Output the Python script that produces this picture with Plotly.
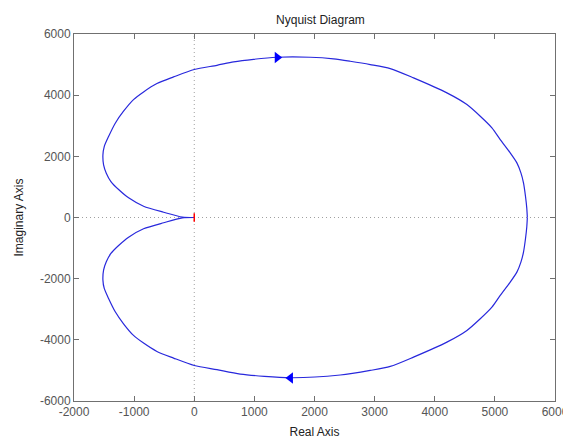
import plotly.graph_objects as go

# Upper branch: origin -> left lobe -> top -> right crossing
upper_re = [0, -200, -510, -843, -1092, -1258, -1386, -1463, -1508, -1519, -1497, -1425,
            -1314, -1176, -1010, -843, -621, -344, 0, 377, 654, 987, 1375, 1929, 2317,
            2594, 2927, 3260, 3647, 4202, 4535, 4757, 4951, 5089, 5255, 5366, 5433,
            5476, 5509, 5531, 5540]
upper_im = [0, 15, 173, 369, 643, 915, 1176, 1449, 1721, 2048, 2320, 2647,
            3083, 3475, 3856, 4107, 4380, 4597, 4840, 4977, 5088, 5173, 5239, 5239, 5186,
            5108, 5000, 4870, 4565, 4075, 3693, 3311, 2931, 2549, 2114, 1787, 1460,
            1134, 696, 300, 0]

# Lower branch: right crossing -> bottom -> left lobe -> origin
lower_re = [5540, 5531, 5509, 5476, 5433, 5366, 5255, 5089, 4951, 4757, 4535, 4202,
            3647, 3260, 2927, 2428, 1597, 765, 377, 0, -344, -621, -843, -1010, -1176,
            -1314, -1425, -1497, -1519, -1508, -1463, -1386, -1258, -1092, -843, -510,
            -200, 0]
lower_im = [0, -300, -696, -1134, -1460, -1787, -2114, -2549, -2931, -3311, -3693, -4075,
            -4565, -4870, -5000, -5150, -5240, -5120, -4977, -4840, -4597, -4380, -4107,
            -3856, -3475, -3083, -2647, -2320, -2048, -1721, -1449, -1176, -915, -643,
            -369, -173, -15, 0]

# Arrow heads
arrow_re = [1380, 1600]
arrow_im = [5235, -5245]
arrow_sym = ["triangle-right", "triangle-left"]

x_ticks = [-2000, -1000, 0, 1000, 2000, 3000, 4000, 5000, 6000]
y_ticks = [-6000, -4000, -2000, 0, 2000, 4000, 6000]

fig = go.Figure()
fig.add_trace(go.Scatter(x=upper_re, y=upper_im, mode="lines",
                         line=dict(color="#2828dc", width=1.2, shape="spline", smoothing=0.7),
                         hoverinfo="skip"))
fig.add_trace(go.Scatter(x=lower_re, y=lower_im, mode="lines",
                         line=dict(color="#2828dc", width=1.2, shape="spline", smoothing=0.7),
                         hoverinfo="skip"))
fig.add_trace(go.Scatter(x=arrow_re, y=arrow_im, mode="markers",
                         marker=dict(symbol=arrow_sym, size=10, color="#0000ff",
                                     line=dict(width=0))))
# critical point marker
fig.add_trace(go.Scatter(x=[0], y=[0], mode="markers",
                         marker=dict(symbol="line-ns", size=6, color="red",
                                     line=dict(color="red", width=1.5))))

# dotted zero lines
fig.add_shape(type="line", xref="x", yref="paper", x0=0, x1=0, y0=0, y1=1,
              line=dict(color="#a0a0a0", width=1, dash="1px,3px"), layer="below")
fig.add_shape(type="line", xref="paper", yref="y", x0=0, x1=1, y0=0, y1=0,
              line=dict(color="#a0a0a0", width=1, dash="1px,3px"), layer="below")

axis_common = dict(showgrid=False, zeroline=False, ticks="inside", ticklen=5,
                   tickcolor="#707070", showline=True, linecolor="#707070",
                   linewidth=1, mirror="ticks", automargin=False,
                   tickfont=dict(family="Liberation Sans", size=12, color="#555555"))

# page body has an 8px margin, so the figure is made 8px smaller on each dimension
fig.update_layout(
    width=563, height=436,
    margin=dict(l=66, r=16, t=26, b=43),
    paper_bgcolor="white", plot_bgcolor="white",
    showlegend=False,
    title=dict(text="Nyquist Diagram", x=0.555, xanchor="center", y=0.972,
               yanchor="middle", yref="container",
               font=dict(family="Liberation Sans", size=12, color="#222222")),
    xaxis=dict(range=[-2000, 6000], tickvals=x_ticks, ticktext=[str(v) for v in x_ticks],
               title=dict(text="Real Axis", standoff=9,
                          font=dict(family="Liberation Sans", size=12, color="#222222")),
               **axis_common),
    yaxis=dict(range=[-6000, 6000], tickvals=y_ticks, ticktext=[str(v) for v in y_ticks],
               title=dict(text="Imaginary Axis", standoff=13,
                          font=dict(family="Liberation Sans", size=12, color="#222222")),
               **axis_common),
)

fig.write_html("out.html")
